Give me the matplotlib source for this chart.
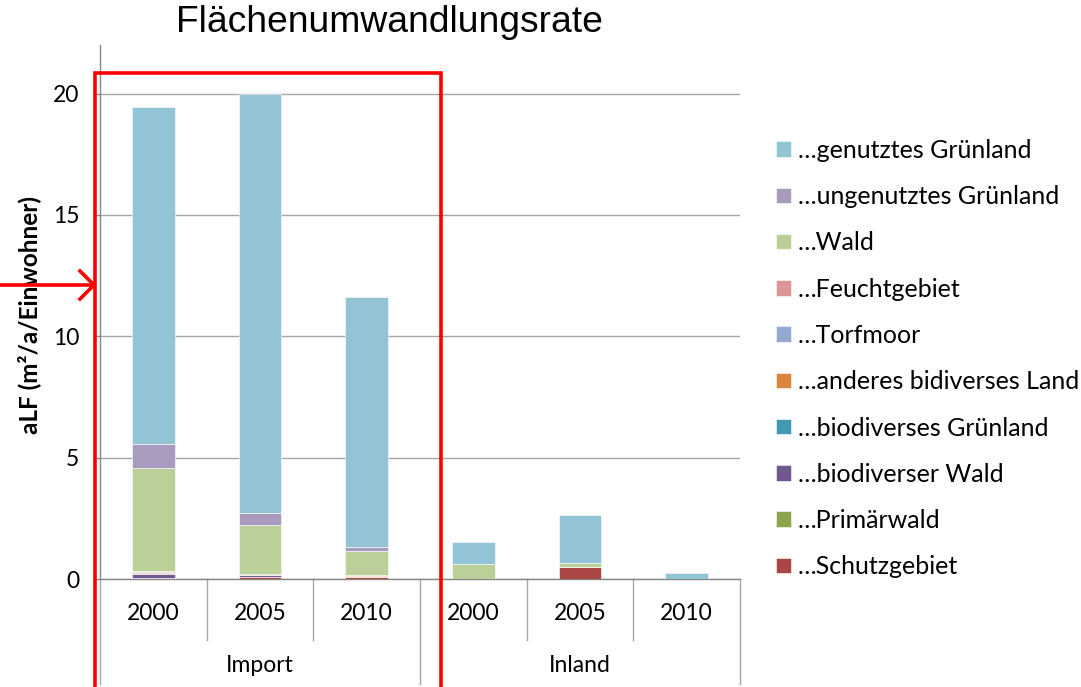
import matplotlib
matplotlib.use("Agg")
import matplotlib.pyplot as plt
from matplotlib.patches import Rectangle, Patch
from matplotlib.lines import Line2D
import matplotlib.transforms as mtransforms
import numpy as np

# ---------------- data ----------------
years = ["2000", "2005", "2010", "2000", "2005", "2010"]
groups = ["Import", "Inland"]

series_names = ["…Schutzgebiet", "…Primärwald", "…biodiverser Wald", "…biodiverses Grünland",
                "…anderes bidiverses Land", "…Torfmoor", "…Feuchtgebiet", "…Wald",
                "…ungenutztes Grünland", "…genutztes Grünland"]

schutzgebiet = [0.04, 0.10, 0.10, 0.00, 0.49, 0.00]
primaerwald = [0.02, 0.00, 0.00, 0.00, 0.00, 0.00]
biodiv_wald = [0.15, 0.05, 0.00, 0.00, 0.00, 0.00]
biodiv_gruenland = [0.01, 0.00, 0.00, 0.00, 0.00, 0.00]
anderes_land = [0.03, 0.00, 0.04, 0.00, 0.00, 0.00]
torfmoor = [0.03, 0.00, 0.00, 0.00, 0.00, 0.00]
feuchtgebiet = [0.05, 0.04, 0.02, 0.00, 0.00, 0.00]
wald = [4.24, 2.03, 0.99, 0.63, 0.18, 0.00]
ungenutzt = [1.00, 0.50, 0.18, 0.00, 0.00, 0.00]
genutzt = [13.86, 17.28, 10.27, 0.88, 1.96, 0.23]

series_values = [schutzgebiet, primaerwald, biodiv_wald, biodiv_gruenland, anderes_land,
                 torfmoor, feuchtgebiet, wald, ungenutzt, genutzt]
colors = ["#AA4643", "#89A54E", "#71588F", "#4198AF", "#DB843D",
          "#93A9CF", "#D99694", "#BBD098", "#A99BBD", "#93C4D6"]

yticks = [0, 5, 10, 15, 20]

# ---------------- figure ----------------
W, H = 1081, 687
fig = plt.figure(figsize=(W / 100, H / 100), dpi=100)
ax = fig.add_axes([100 / W, (H - 579) / H, 640 / W, 534 / H])

font = "Lato"
x = np.arange(len(years))
bottom = np.zeros(len(years))
for name, vals, c in zip(series_names, series_values, colors):
    vals = np.array(vals)
    ax.bar(x, vals, width=0.4, bottom=bottom, color=c, edgecolor="#FFFFFF",
           linewidth=0.4, label=name, zorder=3)
    bottom += vals

ax.set_xlim(-0.5, len(years) - 0.5)
ax.set_ylim(0, 22)
ax.set_yticks(yticks)
ax.set_yticklabels([str(t) for t in yticks], fontsize=16.5, family=font)
ax.tick_params(axis="y", direction="out", length=5, width=1, color="#868686", pad=10)
ax.set_xticks([])
ax.yaxis.grid(True, color="#A6A6A6", linewidth=1, zorder=0)
for s in ["top", "right"]:
    ax.spines[s].set_visible(False)
for s in ["left", "bottom"]:
    ax.spines[s].set_color("#868686")
    ax.spines[s].set_linewidth(1)

ax.set_ylabel("aLF (m²/a/Einwohner)", fontsize=17.5, fontweight="bold", family=font)
ax.yaxis.set_label_coords(-0.092, 0.494)

# category axis (two levels)
trans = mtransforms.blended_transform_factory(ax.transData, ax.transAxes)
y_year_sep = -(640 - 579) / 534
y_group_sep = -(684 - 579) / 534
bounds = np.arange(-0.5, len(years), 1.0)
for i, b in enumerate(bounds):
    y_end = y_group_sep if i % 3 == 0 else y_year_sep
    ax.plot([b, b], [0, y_end], transform=trans, color="#A6A6A6", lw=1, clip_on=False)
for xi, lab in zip(x, years):
    ax.text(xi, -(614 - 579) / 534, lab, transform=trans, ha="center", va="center",
            fontsize=16.5, family=font)
for gi, g in enumerate(groups):
    ax.text(gi * 3 + 1, -(665 - 579) / 534, g, transform=trans, ha="center", va="center",
            fontsize=16.5, family=font)

# title
fig.text(389 / W, 1 - 23 / H, "Flächenumwandlungsrate", ha="center", va="center",
         fontsize=26.8, family="Liberation Sans")

# legend
handles, labels = ax.get_legend_handles_labels()
leg = ax.legend(handles[::-1], labels[::-1], loc="upper left",
                bbox_to_anchor=(776 / W, 1 - 139 / H), bbox_transform=fig.transFigure,
                frameon=False, prop={"family": font, "size": 18},
                handlelength=0.58, handleheight=0.58, handletextpad=0.3,
                labelspacing=0.93, borderpad=0, borderaxespad=0)

# red annotation overlays
fig.add_artist(Rectangle((95 / W, -0.01), (441 - 95) / W, (H - 73) / H + 0.01,
                         transform=fig.transFigure, fill=False, edgecolor="#FF0000",
                         linewidth=2.6, zorder=10))
ya = 1 - 285 / H
fig.add_artist(Line2D([0, 94 / W], [ya, ya], transform=fig.transFigure, color="#FF0000",
                      lw=2.6, zorder=10))
fig.add_artist(Line2D([80 / W, 94 / W, 80 / W], [ya + 14 / H, ya, ya - 14 / H],
                      transform=fig.transFigure, color="#FF0000", lw=2.6, zorder=10))

fig.savefig("out.png", dpi=100)
